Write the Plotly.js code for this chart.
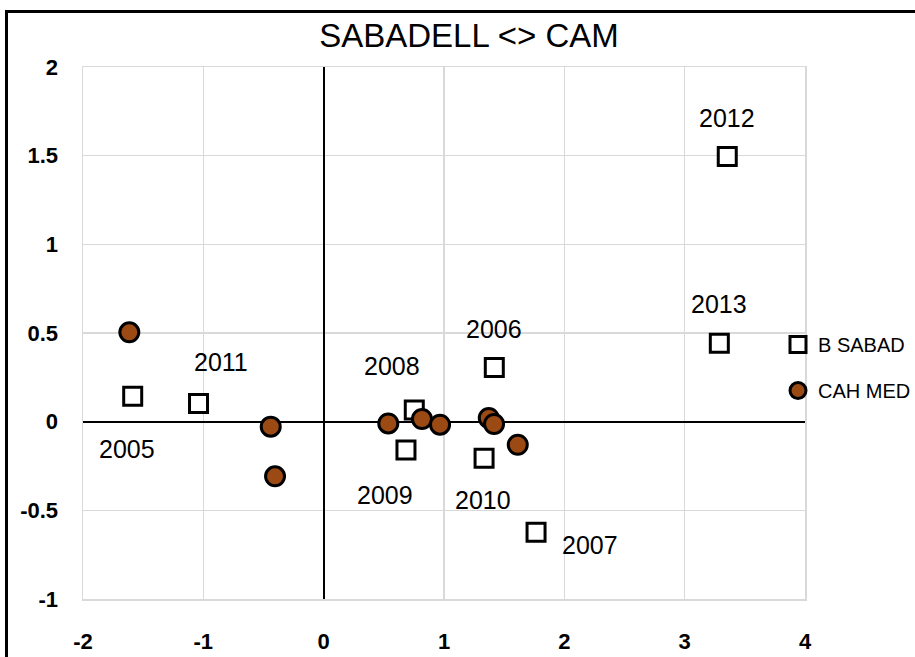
<!DOCTYPE html>
<html>
<head>
<meta charset="utf-8">
<script src="https://cdn.plot.ly/plotly-3.0.1.min.js"></script>
<style>
  html, body { margin: 0; padding: 0; background: #fff; }
  #wrap { position: relative; width: 915px; height: 657px; overflow: hidden; }
  #chart { position: absolute; left: 0; top: 0; width: 915px; height: 657px; }
  #frame { position: absolute; left: 5px; top: 10px; width: 940px; height: 700px;
           border-left: 3px solid #000; border-top: 3px solid #000; pointer-events: none; }
</style>
</head>
<body>
<div id="wrap">
  <div id="chart"></div>
  <div id="frame"></div>
</div>
<script>
// ---- data ----
const years = ["2005", "2006", "2007", "2008", "2009", "2010", "2011", "2012", "2013"];
const sabadX = [-1.587, 1.418, 1.765, 0.753, 0.684, 1.333, -1.040, 3.354, 3.288];
const sabadY = [0.143, 0.306, -0.624, 0.066, -0.160, -0.207, 0.103, 1.496, 0.442];
const camX = [-1.615, -0.440, -0.404, 0.537, 0.817, 0.967, 1.372, 1.416, 1.613];
const camY = [0.504, -0.028, -0.308, -0.010, 0.015, -0.017, 0.021, -0.013, -0.130];
const xTickVals = [-2, -1, 0, 1, 2, 3, 4];
const xTickText = ["-2", "-1", "0", "1", "2", "3", "4"];
const yTickVals = [-1, -0.5, 0, 0.5, 1, 1.5, 2];
const yTickText = ["-1", "-0.5", "0", "0.5", "1", "1.5", "2"];
// label offsets (pixels) for year labels
const labelDX = [-6, 0, 54, -22, -21, -1, 22, 0, 0];
const labelDY = [-53, 38, -13, 44, -45, -42, 41, 38, 39];

const FONT = "Liberation Sans, Arial, sans-serif";

const traces = [
  {
    type: "scatter", mode: "markers", name: "B SABAD",
    x: sabadX, y: sabadY, legendgroup: "a",
    marker: { symbol: "square", size: 18, color: "#ffffff", line: { color: "#000000", width: 3 } },
    cliponaxis: false
  },
  {
    type: "scatter", mode: "markers", name: "CAH MED",
    x: camX, y: camY, legendgroup: "b",
    marker: { symbol: "circle", size: 19, color: "#9C4A14", line: { color: "#000000", width: 3 } },
    cliponaxis: false
  }
];

const annotations = years.map((yr, i) => ({
  x: sabadX[i], y: sabadY[i], xref: "x", yref: "y",
  text: yr, showarrow: false,
  xshift: labelDX[i], yshift: labelDY[i],
  font: { family: FONT, size: 25, color: "#000" }
}));

const layout = {
  width: 915, height: 657,
  margin: { l: 83, r: 110, t: 67, b: 58, pad: 0, autoexpand: false },
  paper_bgcolor: "#ffffff", plot_bgcolor: "#ffffff",
  title: {
    text: "SABADELL &lt;&gt; CAM",
    font: { family: FONT, size: 33, color: "#000" },
    x: 469 / 915, xref: "container", xanchor: "center",
    y: 1 - 35 / 657, yref: "container", yanchor: "middle"
  },
  xaxis: {
    range: [-2, 4], tickvals: xTickVals, ticktext: xTickText,
    showgrid: true, gridcolor: "#d9d9d9", gridwidth: 1.5,
    zeroline: true, zerolinecolor: "#000000", zerolinewidth: 2,
    showline: true, linecolor: "#d9d9d9", linewidth: 1.5, mirror: true,
    ticks: "", ticklabelstandoff: 22,
    tickfont: { family: FONT, size: 22, color: "#000", weight: "bold" },
    fixedrange: true
  },
  yaxis: {
    range: [-1, 2], tickvals: yTickVals, ticktext: yTickText,
    showgrid: true, gridcolor: "#d9d9d9", gridwidth: 1.5,
    zeroline: true, zerolinecolor: "#000000", zerolinewidth: 2,
    showline: true, linecolor: "#d9d9d9", linewidth: 1.5, mirror: true,
    ticks: "", ticklabelstandoff: 19,
    tickfont: { family: FONT, size: 22, color: "#000", weight: "bold" },
    fixedrange: true
  },
  showlegend: true,
  legend: {
    x: (778 - 83) / 722, xanchor: "left",
    y: (599 - 325) / 532, yanchor: "top",
    traceorder: "grouped", tracegroupgap: 17,
    bgcolor: "rgba(0,0,0,0)", borderwidth: 0,
    font: { family: FONT, size: 20, color: "#000" },
    itemwidth: 30
  },
  annotations: annotations
};

Plotly.newPlot("chart", traces, layout, { staticPlot: true, displayModeBar: false });
</script>
</body>
</html>
